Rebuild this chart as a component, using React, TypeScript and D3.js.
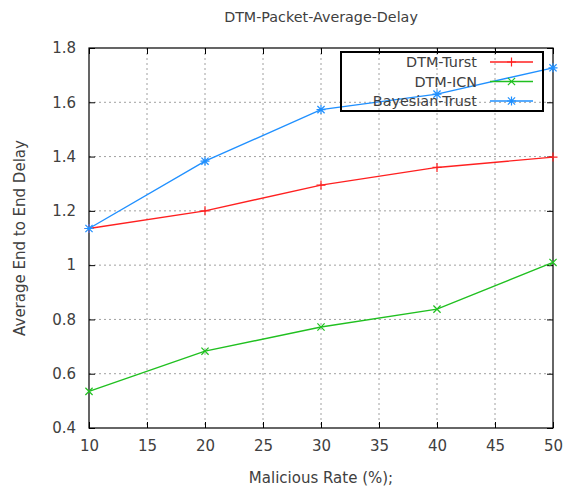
import React, { useEffect, useRef } from "react";
import * as d3 from "d3";

// malicious rate (%)
const rates = [10, 20, 30, 40, 50];
const turst = [1.135, 1.2, 1.295, 1.36, 1.398];
const icn = [0.535, 0.683, 0.772, 0.838, 1.01];
const bayesian = [1.135, 1.383, 1.573, 1.63, 1.727];

const xTicks = [10, 15, 20, 25, 30, 35, 40, 45, 50];
const yTicks = [0.4, 0.6, 0.8, 1, 1.2, 1.4, 1.6, 1.8];

const seriesNames = ["DTM-Turst", "DTM-ICN", "Bayesian-Trust"];
const seriesColors = ["#ff2020", "#20c020", "#2090ff"];
const seriesMarkers = ["plus", "cross", "star"];

const App = () => {
  const svgRef = useRef<SVGSVGElement>(null);

  useEffect(() => {
    const W = 564;
    const H = 488;
    const margin = { top: 48, right: 11, bottom: 60, left: 89 };
    const width = W - margin.left - margin.right;
    const height = H - margin.top - margin.bottom;
    const font = "DejaVu Sans, sans-serif";
    const textCol = "#404040";

    const root = d3.select(svgRef.current);
    root.selectAll("*").remove();
    root.attr("width", W).attr("height", H);

    const svg = root
      .append("g")
      .attr("transform", `translate(${margin.left},${margin.top})`);

    const x = d3.scaleLinear().domain([10, 50]).range([0, width]);
    const y = d3.scaleLinear().domain([0.4, 1.8]).range([height, 0]);

    // grid
    svg
      .selectAll(".gx")
      .data(xTicks.slice(1, -1))
      .join("line")
      .attr("x1", (d) => x(d))
      .attr("x2", (d) => x(d))
      .attr("y1", 0)
      .attr("y2", height)
      .attr("stroke", "#a0a0a0")
      .attr("stroke-dasharray", "2,3");
    svg
      .selectAll(".gy")
      .data(yTicks.slice(1, -1))
      .join("line")
      .attr("x1", 0)
      .attr("x2", width)
      .attr("y1", (d) => y(d))
      .attr("y2", (d) => y(d))
      .attr("stroke", "#a0a0a0")
      .attr("stroke-dasharray", "2,3");

    // axes with inward ticks, mirrored
    const axStyle = (g) => {
      g.select(".domain").remove();
      g.selectAll("text")
        .attr("fill", textCol)
        .style("font-family", font)
        .style("font-size", "15px");
      g.selectAll("line").attr("stroke", "#000");
    };
    svg
      .append("g")
      .attr("transform", `translate(0,${height})`)
      .call(d3.axisBottom(x).tickValues(xTicks).tickSizeInner(-6).tickPadding(12).tickFormat(d3.format("d")))
      .call(axStyle);
    svg
      .append("g")
      .call(d3.axisTop(x).tickValues(xTicks).tickSizeInner(-6).tickFormat(() => ""))
      .call(axStyle);
    svg
      .append("g")
      .call(d3.axisLeft(y).tickValues(yTicks).tickSizeInner(-6).tickPadding(13).tickFormat((d) => `${d}`))
      .call(axStyle);
    svg
      .append("g")
      .attr("transform", `translate(${width},0)`)
      .call(d3.axisRight(y).tickValues(yTicks).tickSizeInner(-6).tickFormat(() => ""))
      .call(axStyle);

    svg
      .append("rect")
      .attr("width", width)
      .attr("height", height)
      .attr("fill", "none")
      .attr("stroke", "#000")
      .attr("stroke-width", 1.2);

    const marker = (g, type, cx, cy, color) => {
      const s = 4.5;
      const p = d3.path();
      if (type === "plus" || type === "star") {
        p.moveTo(cx - s, cy);
        p.lineTo(cx + s, cy);
        p.moveTo(cx, cy - s);
        p.lineTo(cx, cy + s);
      }
      if (type === "cross" || type === "star") {
        const t = s * 0.8;
        p.moveTo(cx - t, cy - t);
        p.lineTo(cx + t, cy + t);
        p.moveTo(cx - t, cy + t);
        p.lineTo(cx + t, cy - t);
      }
      g.append("path")
        .attr("d", p.toString())
        .attr("stroke", color)
        .attr("stroke-width", 1.2)
        .attr("fill", "none");
    };

    const allSeries = [turst, icn, bayesian];
    const line = d3
      .line<number>()
      .x((_, i) => x(rates[i]))
      .y((d) => y(d));

    allSeries.forEach((vals, si) => {
      const g = svg.append("g");
      g.append("path")
        .datum(vals)
        .attr("d", line)
        .attr("fill", "none")
        .attr("stroke", seriesColors[si])
        .attr("stroke-width", 1.4);
      vals.forEach((v, i) =>
        marker(g, seriesMarkers[si], x(rates[i]), y(v), seriesColors[si])
      );
    });

    // legend
    const legend = root.append("g");
    legend
      .append("rect")
      .attr("x", 341)
      .attr("y", 52)
      .attr("width", 202)
      .attr("height", 59)
      .attr("fill", "none")
      .attr("stroke", "#000")
      .attr("stroke-width", 2);
    seriesNames.forEach((name, i) => {
      const ly = 62 + i * 19.5;
      legend
        .append("text")
        .attr("x", 477)
        .attr("y", ly)
        .attr("dy", "0.35em")
        .attr("text-anchor", "end")
        .attr("fill", textCol)
        .style("font-family", font)
        .style("font-size", "14.4px")
        .text(name);
      legend
        .append("line")
        .attr("x1", 490)
        .attr("x2", 533)
        .attr("y1", ly)
        .attr("y2", ly)
        .attr("stroke", seriesColors[i])
        .attr("stroke-width", 1.4);
      marker(legend, seriesMarkers[i], 511.5, ly, seriesColors[i]);
    });

    // title and labels
    root
      .append("text")
      .attr("x", margin.left + width / 2)
      .attr("y", 22)
      .attr("text-anchor", "middle")
      .attr("fill", textCol)
      .style("font-family", font)
      .style("font-size", "14.3px")
      .text("DTM-Packet-Average-Delay");
    root
      .append("text")
      .attr("x", margin.left + width / 2)
      .attr("y", 483)
      .attr("text-anchor", "middle")
      .attr("fill", textCol)
      .style("font-family", font)
      .style("font-size", "15px")
      .text("Malicious Rate (%);");
    root
      .append("text")
      .attr("transform", `translate(25,${margin.top + height / 2}) rotate(-90)`)
      .attr("text-anchor", "middle")
      .attr("fill", textCol)
      .style("font-family", font)
      .style("font-size", "15px")
      .text("Average End to End Delay");
  }, []);

  return (
    <div style={{ position: "absolute", left: 0, top: 0 }}>
      <svg ref={svgRef} style={{ display: "block" }} />
    </div>
  );
};

export default App;
